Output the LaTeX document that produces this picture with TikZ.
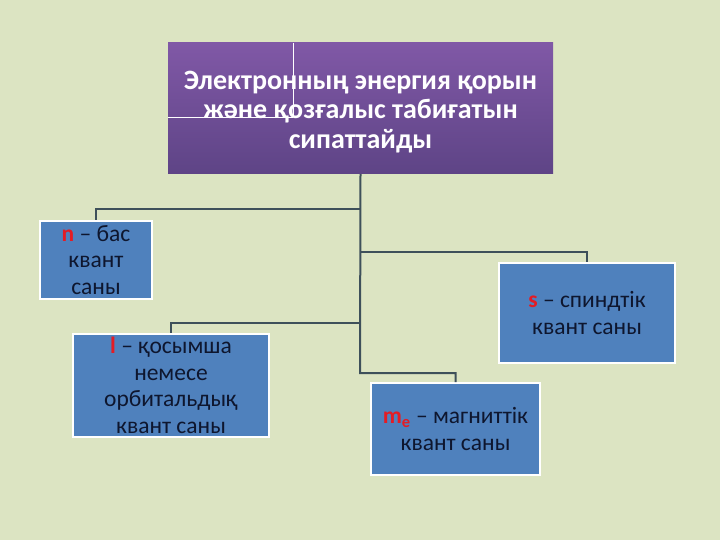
\documentclass[tikz,border=0pt]{standalone}
\usepackage{fontspec}
\setmainfont{Carlito}
\usepackage{tikz}
\usetikzlibrary{positioning}
\definecolor{bgcol}{RGB}{220,228,194}
\definecolor{boxblue}{RGB}{79,129,189}
\definecolor{violettop}{RGB}{128,88,166}
\definecolor{violetbot}{RGB}{94,68,134}
\definecolor{linkcol}{RGB}{62,80,90}
\definecolor{txtcol}{RGB}{14,22,46}
\definecolor{qred}{RGB}{228,28,36}
\def\TrunkX{360}
\newcommand{\qsym}[1]{\textcolor{qred}{\textbf{#1}}}
\tikzset{
  headbox/.style={top color=violettop,bottom color=violetbot,draw=none,
    minimum width=385pt,minimum height=131pt,inner sep=0pt},
  headtext/.style={text=white,align=center,
    font=\bfseries\fontsize{28}{29.5}\selectfont,inner sep=0pt},
  qbox/.style={fill=boxblue,draw=white,line width=1.6pt,text=txtcol,
    align=center,font=\fontsize{23.5}{26.5}\selectfont,inner sep=0pt},
  link/.style={draw=linkcol,line width=2pt}
}
\begin{document}
\begin{tikzpicture}[x=1pt,y=-1pt]
  \fill[bgcol] (0,0) rectangle (720,540);
  \useasboundingbox (0,0) rectangle (720,540);
  % head box
  \node[headbox] (top) at (360.5,108.5) {};
  \draw[white,line width=0.6pt] (293,43) -- (293,117) (168,117) -- (293,117);
  \node[headtext] (toptxt) at (360.5,112) {Электронның энергия қорын\\және қозғалыс табиғатын\\сипаттайды};
  % quantum numbers
  \node[qbox,minimum width=112pt,minimum height=78pt] (nq) at (96,260) {\qsym{n} – бас\\квант\\саны};
  \node[qbox,minimum width=196pt,minimum height=103pt] (lq) at (171,385.5) {\qsym{l} – қосымша\\немесе\\орбитальдық\\квант саны};
  \node[qbox,minimum width=176pt,minimum height=100pt] (sq) at (587,313) {\qsym{s} – спиндтік\\квант саны};
  \node[qbox,minimum width=169pt,minimum height=92pt] (mq) at (455.5,429) {\qsym{m}\textsubscript{\qsym{e}} – магниттік\\квант саны};
  % branch points on the trunk
  \coordinate (bn) at (\TrunkX,209);
  \coordinate (bs) at (\TrunkX,252);
  \coordinate (bl) at (\TrunkX,323);
  \coordinate (bm) at (\TrunkX,373);
  \draw[link] (top.south) -- (bm) -| (mq.north);
  \draw[link] (bn) -| (nq.north);
  \draw[link] (bs) -| (sq.north);
  \draw[link] (bl) -| (lq.north);
\end{tikzpicture}
\end{document}
